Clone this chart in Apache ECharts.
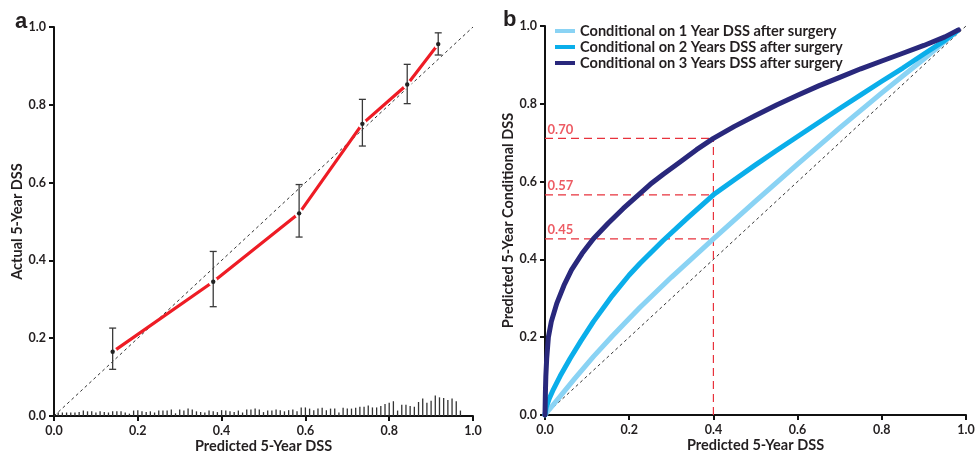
<!DOCTYPE html>
<html>
<head>
<meta charset="utf-8">
<script src="https://cdn.jsdelivr.net/npm/echarts@6/dist/echarts.min.js"></script>
<style>
html,body{margin:0;padding:0;background:#fff;overflow:hidden;}
#chart{width:976px;height:451px;}
</style>
</head>
<body>
<div id="chart"></div>
<script>
// ---------- Panel a: calibration ----------
const calX    = [0.140, 0.380, 0.585, 0.736, 0.843, 0.917];
const calY    = [0.165, 0.345, 0.521, 0.751, 0.852, 0.956];
const calLow  = [0.120, 0.281, 0.460, 0.694, 0.803, 0.928];
const calHigh = [0.226, 0.423, 0.595, 0.814, 0.904, 0.985];

const spikeX = [0.01,0.02,0.03,0.04,0.05,0.06,0.07,0.08,0.09,0.10,
  0.11,0.12,0.13,0.14,0.15,0.16,0.17,0.18,0.19,0.20,
  0.21,0.22,0.23,0.24,0.25,0.26,0.27,0.28,0.29,0.30,
  0.31,0.32,0.33,0.34,0.35,0.36,0.37,0.38,0.39,0.40,
  0.41,0.42,0.43,0.44,0.45,0.46,0.47,0.48,0.49,0.50,
  0.51,0.52,0.53,0.54,0.55,0.56,0.57,0.58,0.59,0.60,
  0.61,0.62,0.63,0.64,0.65,0.66,0.67,0.68,0.69,0.70,
  0.71,0.72,0.73,0.74,0.75,0.76,0.77,0.78,0.79,0.80,
  0.81,0.82,0.83,0.84,0.85,0.86,0.87,0.88,0.89,0.90,
  0.91,0.92,0.93,0.94,0.95,0.96,0.97];
const spikeH = [0.009,0.009,0.009,0.009,0.009,0.010,0.014,0.012,0.012,0.009,
  0.012,0.010,0.009,0.012,0.012,0.012,0.009,0.006,0.014,0.015,
  0.012,0.010,0.012,0.009,0.014,0.014,0.014,0.017,0.007,0.017,
  0.014,0.019,0.017,0.012,0.010,0.009,0.014,0.012,0.010,0.015,
  0.014,0.012,0.010,0.014,0.009,0.017,0.017,0.019,0.017,0.010,
  0.014,0.014,0.017,0.015,0.012,0.015,0.017,0.012,0.022,0.022,
  0.019,0.015,0.019,0.021,0.015,0.019,0.019,0.009,0.021,0.019,
  0.019,0.021,0.024,0.024,0.027,0.022,0.022,0.026,0.031,0.034,
  0.038,0.014,0.029,0.029,0.026,0.024,0.036,0.045,0.034,0.039,
  0.053,0.048,0.046,0.041,0.045,0.038,0.014];

// ---------- Panel b: conditional survival ----------
const c1X = [0, 0.010, 0.036, 0.070, 0.115, 0.160, 0.200, 0.226, 0.300, 0.400, 0.500, 0.600, 0.700, 0.800, 0.900, 0.980];
const c1Y = [0, 0.014, 0.048, 0.093, 0.150, 0.203, 0.248, 0.277, 0.354, 0.453, 0.550, 0.645, 0.738, 0.828, 0.915, 0.988];
const c2X = [0, 0.003, 0.010, 0.020, 0.036, 0.060, 0.085, 0.115, 0.160, 0.200, 0.226, 0.280, 0.340, 0.400, 0.450, 0.500,
             0.550, 0.600, 0.650, 0.700, 0.750, 0.800, 0.850, 0.900, 0.950, 0.980];
const c2Y = [0, 0.020, 0.042, 0.066, 0.100, 0.146, 0.190, 0.240, 0.307, 0.360, 0.390, 0.448, 0.508, 0.566, 0.605, 0.643,
             0.680, 0.716, 0.752, 0.788, 0.823, 0.858, 0.892, 0.928, 0.963, 0.988];
const c3X = [0, 0.001, 0.002, 0.004, 0.008, 0.015, 0.028, 0.045, 0.063, 0.088, 0.115, 0.150, 0.186, 0.222, 0.250, 0.281,
             0.320, 0.360, 0.400, 0.450, 0.500, 0.550, 0.600, 0.650, 0.700, 0.750, 0.800, 0.850, 0.900, 0.950, 0.982];
const c3Y = [0, 0.060, 0.100, 0.145, 0.200, 0.240, 0.287, 0.333, 0.373, 0.415, 0.453, 0.493, 0.531, 0.566, 0.593, 0.619,
             0.650, 0.682, 0.711, 0.742, 0.770, 0.797, 0.822, 0.846, 0.868, 0.890, 0.910, 0.930, 0.950, 0.972, 0.990];
const seriesNames = ['Conditional on 1 Year DSS after surgery',
                     'Conditional on 2 Years DSS after surgery',
                     'Conditional on 3 Years DSS after surgery'];
const refX = 0.4;
const refY = [0.711, 0.566, 0.453];
const refLabels = ['0.70', '0.57', '0.45'];

const FONT = 'Lato';
const TXT = '#231f20';
const zip = (a, b) => a.map((v, i) => [v, b[i]]);

function axisBase(name, idx, isY) {
  const ax = {
    type: 'value', gridIndex: idx, min: 0, max: 1, interval: 0.2,
    name: name, nameLocation: 'middle',
    nameGap: isY ? 28 : 23,
    nameTextStyle: {fontFamily: FONT, fontWeight: 'bold', fontSize: 14.5, color: TXT},
    axisLine: {show: true, lineStyle: {color: '#111', width: 2}},
    axisTick: {show: true, length: 5, lineStyle: {color: '#111', width: 2}},
    axisLabel: {fontFamily: FONT, fontWeight: 'bold', fontSize: 12.5, color: TXT, margin: 8,
                formatter: v => v.toFixed(1)},
    splitLine: {show: false}
  };
  if (!isY) ax.nameMoveOverlap = false;
  return ax;
}

const chart = echarts.init(document.getElementById('chart'), null, {renderer: 'canvas', width: 976, height: 451});

const calData = calX.map((x, i) => [x, calY[i], calLow[i], calHigh[i]]);

const option = {
  backgroundColor: '#fff',
  animation: false,
  title: [
    {text: 'a', left: 10, top: 6, textStyle: {fontFamily: 'Liberation Sans', fontWeight: 'bold', fontSize: 22, color: TXT}},
    {text: 'b', left: 498, top: 4, textStyle: {fontFamily: 'Liberation Sans', fontWeight: 'bold', fontSize: 22, color: TXT}}
  ],
  legend: {
    data: seriesNames, orient: 'vertical', left: 555, top: 23, padding: 0,
    icon: 'rect', itemWidth: 20, itemHeight: 4, itemGap: 0,
    textStyle: {fontFamily: FONT, fontWeight: 'bold', fontSize: 14.6, color: TXT, lineHeight: 16}
  },
  grid: [
    {left: 54, right: 503, top: 27, bottom: 35, outerBoundsMode: 'none', containLabel: false},
    {left: 545, right: 10, top: 26, bottom: 36, outerBoundsMode: 'none', containLabel: false}
  ],
  xAxis: [axisBase('Predicted 5-Year DSS', 0, false), axisBase('Predicted 5-Year DSS', 1, false)],
  yAxis: [axisBase('Actual 5-Year DSS', 0, true), axisBase('Predicted 5-Year Conditional DSS', 1, true)],
  series: [
    {type: 'line', xAxisIndex: 0, yAxisIndex: 0, data: [[0, 0], [1, 1]], symbol: 'none',
     lineStyle: {color: '#333', width: 1, type: [3, 3]}, z: 1, silent: true},
    {type: 'line', xAxisIndex: 0, yAxisIndex: 0, data: zip(calX, calY),
     symbol: 'circle', symbolSize: 9, itemStyle: {color: '#fff', borderWidth: 0},
     lineStyle: {color: '#ee1c25', width: 3.2}, z: 3, silent: true},
    {type: 'custom', xAxisIndex: 0, yAxisIndex: 0, data: calData, z: 5, silent: true,
     renderItem: function (params, api) {
       const x = api.value(0);
       const c = api.coord([x, api.value(1)]);
       const lo = api.coord([x, api.value(2)]);
       const hi = api.coord([x, api.value(3)]);
       const st = {stroke: '#3a3a3a', lineWidth: 1.3};
       return {type: 'group', children: [
         {type: 'line', shape: {x1: lo[0], y1: lo[1], x2: hi[0], y2: hi[1]}, style: st},
         {type: 'line', shape: {x1: hi[0] - 3.5, y1: hi[1], x2: hi[0] + 3.5, y2: hi[1]}, style: st},
         {type: 'line', shape: {x1: lo[0] - 3.5, y1: lo[1], x2: lo[0] + 3.5, y2: lo[1]}, style: st},
         {type: 'circle', shape: {cx: c[0], cy: c[1], r: 2.2}, style: {fill: '#222'}}
       ]};
     }},
    {type: 'custom', xAxisIndex: 0, yAxisIndex: 0, data: zip(spikeX, spikeH), z: 4, silent: true,
     renderItem: function (params, api) {
       const b = api.coord([api.value(0), 0]);
       const t = api.coord([api.value(0), api.value(1)]);
       return {type: 'line', shape: {x1: b[0], y1: b[1], x2: t[0], y2: t[1]},
               style: {stroke: '#333', lineWidth: 1.3}};
     }},
    {type: 'line', xAxisIndex: 1, yAxisIndex: 1, data: [[0, 0], [1, 1]], symbol: 'none',
     lineStyle: {color: '#333', width: 1, type: [3, 3]}, z: 1, silent: true},
    {name: seriesNames[0], type: 'line', xAxisIndex: 1, yAxisIndex: 1, data: zip(c1X, c1Y),
     symbol: 'none', smooth: false, color: '#8ad3f4',
     lineStyle: {color: '#8ad3f4', width: 5, join: 'round', cap: 'round'}, z: 3},
    {name: seriesNames[1], type: 'line', xAxisIndex: 1, yAxisIndex: 1, data: zip(c2X, c2Y),
     symbol: 'none', smooth: false, color: '#0aaeea',
     lineStyle: {color: '#0aaeea', width: 5, join: 'round', cap: 'round'}, z: 3},
    {name: seriesNames[2], type: 'line', xAxisIndex: 1, yAxisIndex: 1, data: zip(c3X, c3Y),
     symbol: 'none', smooth: false, color: '#29287c',
     lineStyle: {color: '#29287c', width: 5, join: 'round', cap: 'round'}, z: 3},
    ...refY.map(y => ({type: 'line', xAxisIndex: 1, yAxisIndex: 1, data: [[0, y], [refX, y]],
      symbol: 'none', lineStyle: {color: '#e8323c', width: 1.2, type: [8, 5]}, z: 2, silent: true})),
    {type: 'line', xAxisIndex: 1, yAxisIndex: 1, data: [[refX, 0], [refX, refY[0]]],
      symbol: 'none', lineStyle: {color: '#e8323c', width: 1.2, type: [8, 5]}, z: 2, silent: true},
    {type: 'scatter', xAxisIndex: 1, yAxisIndex: 1, data: refY.map(y => [0, y]), symbolSize: 1,
     itemStyle: {color: 'rgba(0,0,0,0)'}, z: 6, silent: true,
     label: {show: true, position: [3, -15],
       formatter: p => refLabels[p.dataIndex],
       fontFamily: FONT, fontWeight: 'bold', fontSize: 13, color: '#e8323c'}}
  ]
};
chart.setOption(option);
</script>
</body>
</html>
